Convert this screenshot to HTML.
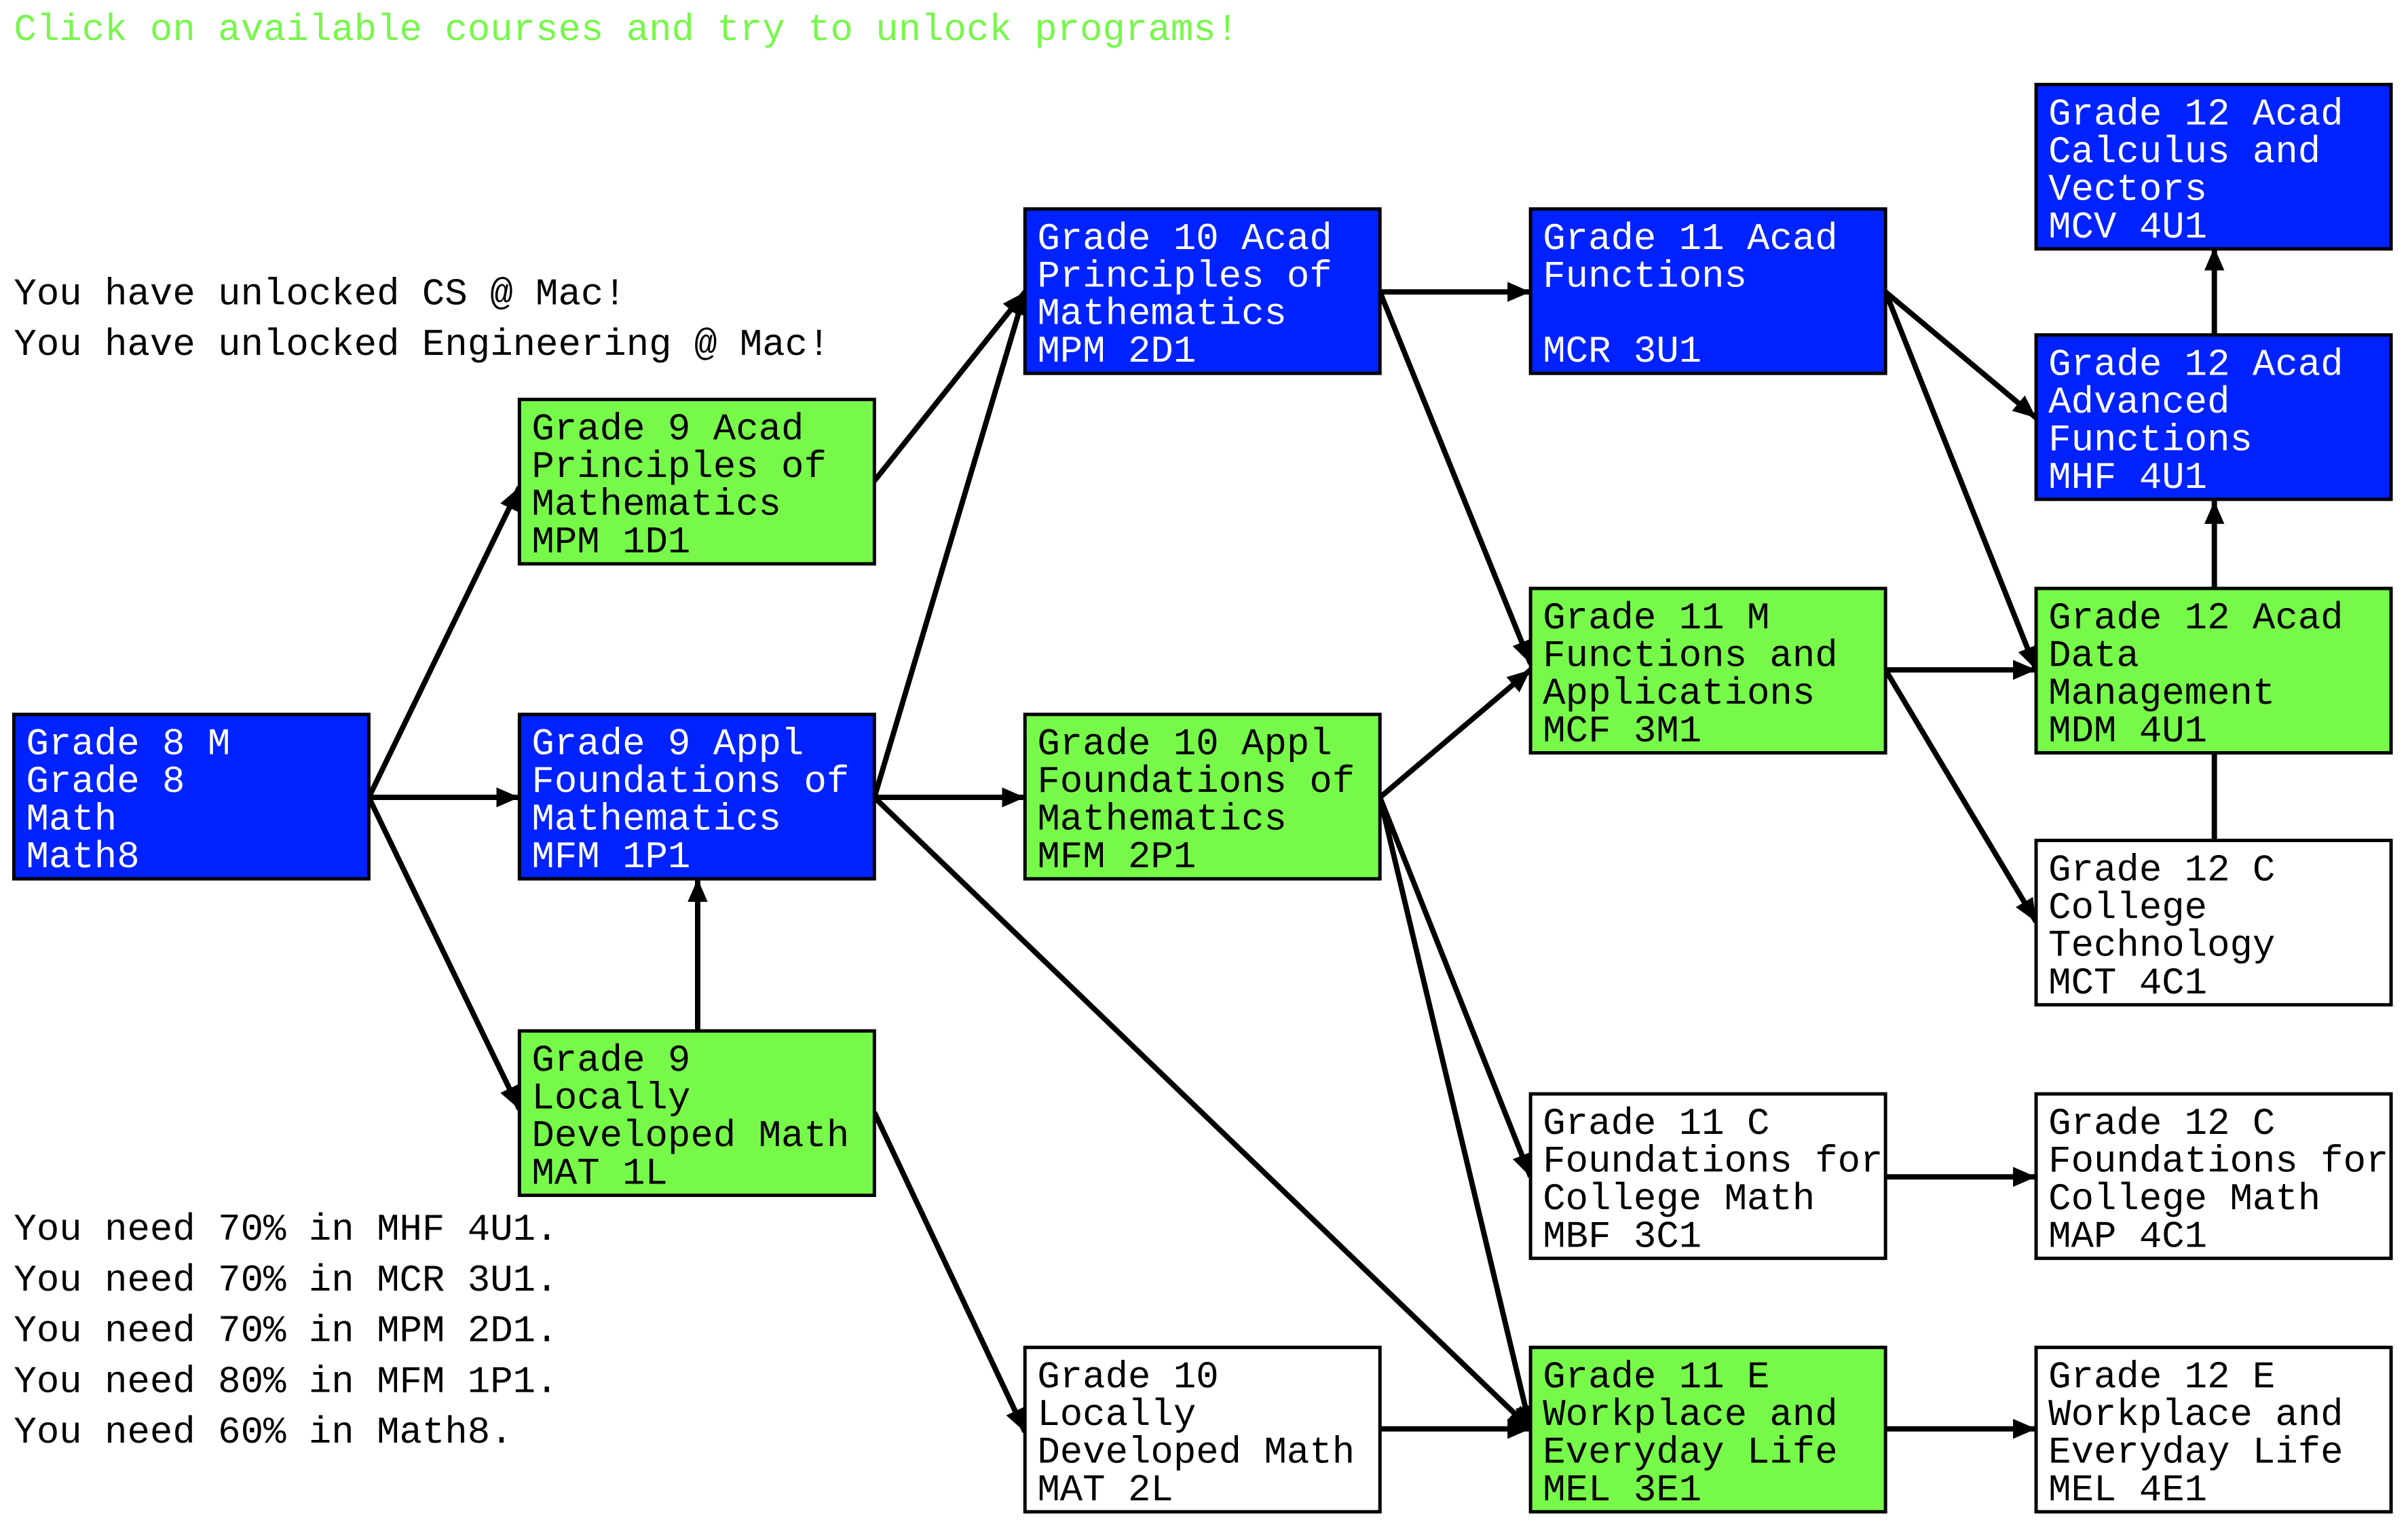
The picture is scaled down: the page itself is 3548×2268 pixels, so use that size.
<!DOCTYPE html>
<html><head><meta charset="utf-8"><style>
html,body{margin:0;padding:0;background:#fff;}
svg{display:block;}
text{font-family:"Liberation Mono",monospace;font-size:24.6px;}
</style></head><body>
<svg width="3548" height="2268" viewBox="0 0 1567 1001.7" xmlns="http://www.w3.org/2000/svg">
<defs>
<marker id="a" markerUnits="userSpaceOnUse" markerWidth="16" markerHeight="13" refX="15" refY="6.5" orient="auto">
<path d="M0,0 L15,6.5 L0,13 z" fill="#000"/>
</marker>
</defs>
<text x="9" y="26" fill="#77f74a">Click on available courses and try to unlock programs!</text>
<text x="9" y="198" fill="#000">You have unlocked CS @ Mac!</text>
<text x="9" y="231" fill="#000">You have unlocked Engineering @ Mac!</text>
<text x="9" y="807" fill="#000">You need 70% in MHF 4U1.</text>
<text x="9" y="840" fill="#000">You need 70% in MCR 3U1.</text>
<text x="9" y="873" fill="#000">You need 70% in MPM 2D1.</text>
<text x="9" y="906" fill="#000">You need 80% in MFM 1P1.</text>
<text x="9" y="939" fill="#000">You need 60% in Math8.</text>

<g stroke="#000" stroke-width="3.5" fill="none">
<line x1="240" y1="519" x2="338" y2="317" marker-end="url(#a)"/>
<line x1="240" y1="519" x2="338" y2="519" marker-end="url(#a)"/>
<line x1="240" y1="519" x2="338" y2="722" marker-end="url(#a)"/>
<line x1="454" y1="671" x2="454" y2="572" marker-end="url(#a)"/>
<line x1="569" y1="313" x2="667" y2="190" marker-end="url(#a)"/>
<line x1="569" y1="519" x2="667" y2="190" marker-end="url(#a)"/>
<line x1="569" y1="519" x2="667" y2="519" marker-end="url(#a)"/>
<line x1="569" y1="519" x2="996" y2="930" marker-end="url(#a)"/>
<line x1="569" y1="724" x2="667" y2="932" marker-end="url(#a)"/>
<line x1="898" y1="930" x2="996" y2="930" marker-end="url(#a)"/>
<line x1="898" y1="190" x2="996" y2="190" marker-end="url(#a)"/>
<line x1="898" y1="190" x2="996" y2="432" marker-end="url(#a)"/>
<line x1="898" y1="519" x2="996" y2="436" marker-end="url(#a)"/>
<line x1="898" y1="519" x2="996" y2="766" marker-end="url(#a)"/>
<line x1="898" y1="519" x2="996" y2="930" marker-end="url(#a)"/>
<line x1="1227" y1="190" x2="1325" y2="272" marker-end="url(#a)"/>
<line x1="1227" y1="190" x2="1325" y2="436" marker-end="url(#a)"/>
<line x1="1227" y1="436" x2="1325" y2="436" marker-end="url(#a)"/>
<line x1="1227" y1="436" x2="1325" y2="600" marker-end="url(#a)"/>
<line x1="1441" y1="383" x2="1441" y2="326" marker-end="url(#a)"/>
<line x1="1441" y1="218" x2="1441" y2="161" marker-end="url(#a)"/>
<line x1="1441" y1="547" x2="1441" y2="490"/>
<line x1="1227" y1="766" x2="1325" y2="766" marker-end="url(#a)"/>
<line x1="1227" y1="930" x2="1325" y2="930" marker-end="url(#a)"/>
</g>

<g stroke="#000" stroke-width="2.2">
<rect x="9" y="465" width="231" height="107" fill="#0022ff"/>
<rect x="338" y="465" width="231" height="107" fill="#0022ff"/>
<rect x="667" y="136" width="231" height="107" fill="#0022ff"/>
<rect x="996" y="136" width="231" height="107" fill="#0022ff"/>
<rect x="1325" y="218" width="231" height="107" fill="#0022ff"/>
<rect x="1325" y="55" width="231" height="107" fill="#0022ff"/>
<rect x="338" y="260" width="231" height="107" fill="#77f94a"/>
<rect x="338" y="671" width="231" height="107" fill="#77f94a"/>
<rect x="667" y="465" width="231" height="107" fill="#77f94a"/>
<rect x="996" y="383" width="231" height="107" fill="#77f94a"/>
<rect x="1325" y="383" width="231" height="107" fill="#77f94a"/>
<rect x="996" y="877" width="231" height="107" fill="#77f94a"/>
<rect x="1325" y="547" width="231" height="107" fill="#fff"/>
<rect x="996" y="712" width="231" height="107" fill="#fff"/>
<rect x="1325" y="712" width="231" height="107" fill="#fff"/>
<rect x="667" y="877" width="231" height="107" fill="#fff"/>
<rect x="1325" y="877" width="231" height="107" fill="#fff"/>
</g>

<g fill="#fff">
<text x="17" y="491"><tspan x="17">Grade 8 M</tspan><tspan x="17" dy="24.5">Grade 8</tspan><tspan x="17" dy="24.5">Math</tspan><tspan x="17" dy="24.5">Math8</tspan></text>
<text x="346" y="491"><tspan x="346">Grade 9 Appl</tspan><tspan x="346" dy="24.5">Foundations of</tspan><tspan x="346" dy="24.5">Mathematics</tspan><tspan x="346" dy="24.5">MFM 1P1</tspan></text>
<text x="675" y="162"><tspan x="675">Grade 10 Acad</tspan><tspan x="675" dy="24.5">Principles of</tspan><tspan x="675" dy="24.5">Mathematics</tspan><tspan x="675" dy="24.5">MPM 2D1</tspan></text>
<text x="1004" y="162"><tspan x="1004">Grade 11 Acad</tspan><tspan x="1004" dy="24.5">Functions</tspan><tspan x="1004" dy="49">MCR 3U1</tspan></text>
<text x="1333" y="244"><tspan x="1333">Grade 12 Acad</tspan><tspan x="1333" dy="24.5">Advanced</tspan><tspan x="1333" dy="24.5">Functions</tspan><tspan x="1333" dy="24.5">MHF 4U1</tspan></text>
<text x="1333" y="81"><tspan x="1333">Grade 12 Acad</tspan><tspan x="1333" dy="24.5">Calculus and</tspan><tspan x="1333" dy="24.5">Vectors</tspan><tspan x="1333" dy="24.5">MCV 4U1</tspan></text>
</g>
<g fill="#000">
<text x="346" y="286"><tspan x="346">Grade 9 Acad</tspan><tspan x="346" dy="24.5">Principles of</tspan><tspan x="346" dy="24.5">Mathematics</tspan><tspan x="346" dy="24.5">MPM 1D1</tspan></text>
<text x="346" y="697"><tspan x="346">Grade 9</tspan><tspan x="346" dy="24.5">Locally</tspan><tspan x="346" dy="24.5">Developed Math</tspan><tspan x="346" dy="24.5">MAT 1L</tspan></text>
<text x="675" y="491"><tspan x="675">Grade 10 Appl</tspan><tspan x="675" dy="24.5">Foundations of</tspan><tspan x="675" dy="24.5">Mathematics</tspan><tspan x="675" dy="24.5">MFM 2P1</tspan></text>
<text x="1004" y="409"><tspan x="1004">Grade 11 M</tspan><tspan x="1004" dy="24.5">Functions and</tspan><tspan x="1004" dy="24.5">Applications</tspan><tspan x="1004" dy="24.5">MCF 3M1</tspan></text>
<text x="1333" y="409"><tspan x="1333">Grade 12 Acad</tspan><tspan x="1333" dy="24.5">Data</tspan><tspan x="1333" dy="24.5">Management</tspan><tspan x="1333" dy="24.5">MDM 4U1</tspan></text>
<text x="1004" y="903"><tspan x="1004">Grade 11 E</tspan><tspan x="1004" dy="24.5">Workplace and</tspan><tspan x="1004" dy="24.5">Everyday Life</tspan><tspan x="1004" dy="24.5">MEL 3E1</tspan></text>
<text x="1333" y="573"><tspan x="1333">Grade 12 C</tspan><tspan x="1333" dy="24.5">College</tspan><tspan x="1333" dy="24.5">Technology</tspan><tspan x="1333" dy="24.5">MCT 4C1</tspan></text>
<text x="1004" y="738"><tspan x="1004">Grade 11 C</tspan><tspan x="1004" dy="24.5">Foundations for</tspan><tspan x="1004" dy="24.5">College Math</tspan><tspan x="1004" dy="24.5">MBF 3C1</tspan></text>
<text x="1333" y="738"><tspan x="1333">Grade 12 C</tspan><tspan x="1333" dy="24.5">Foundations for</tspan><tspan x="1333" dy="24.5">College Math</tspan><tspan x="1333" dy="24.5">MAP 4C1</tspan></text>
<text x="675" y="903"><tspan x="675">Grade 10</tspan><tspan x="675" dy="24.5">Locally</tspan><tspan x="675" dy="24.5">Developed Math</tspan><tspan x="675" dy="24.5">MAT 2L</tspan></text>
<text x="1333" y="903"><tspan x="1333">Grade 12 E</tspan><tspan x="1333" dy="24.5">Workplace and</tspan><tspan x="1333" dy="24.5">Everyday Life</tspan><tspan x="1333" dy="24.5">MEL 4E1</tspan></text>
</g>
</svg>
</body></html>
